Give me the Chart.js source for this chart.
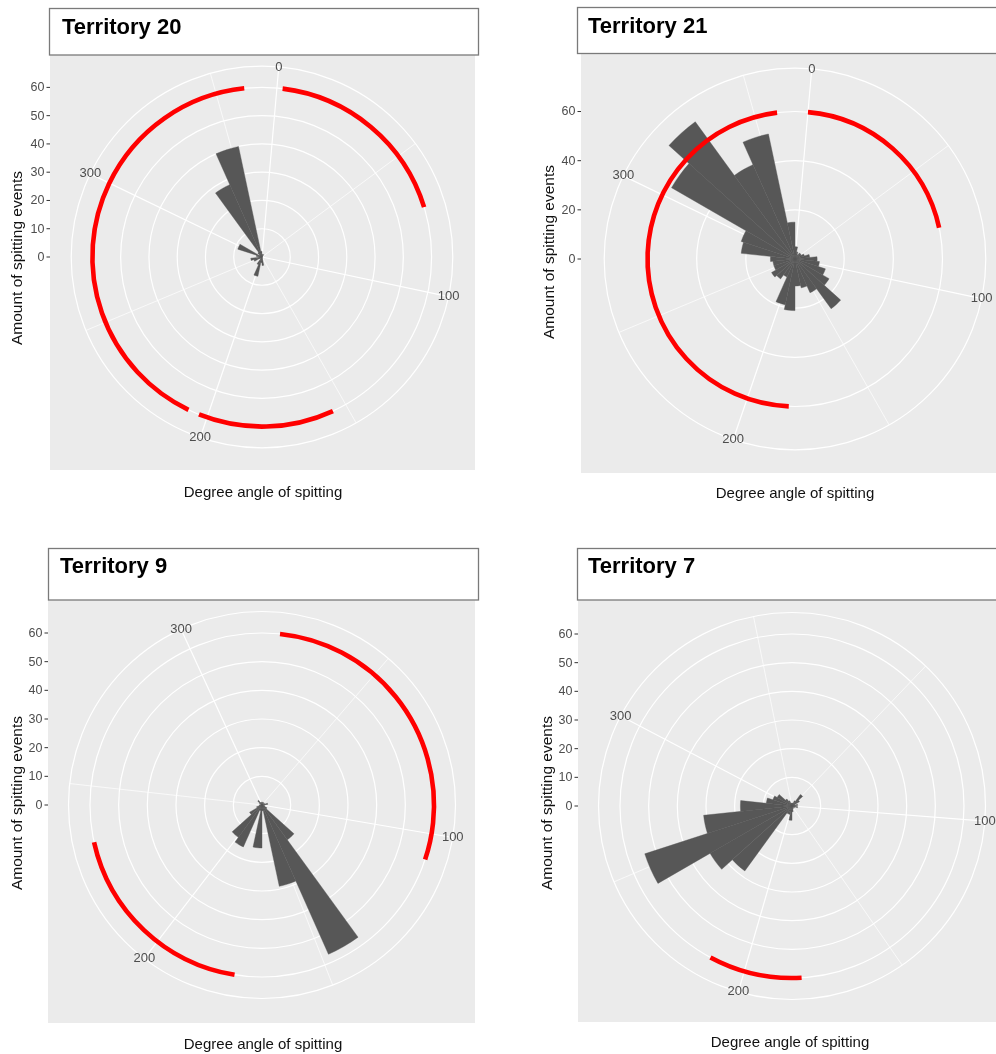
<!DOCTYPE html>
<html>
<head>
<meta charset="utf-8">
<script src="https://cdn.jsdelivr.net/npm/chart.js@4.4.1/dist/chart.umd.min.js"></script>
<style>
  html, body { margin: 0; padding: 0; background: #ffffff; overflow: hidden; width: 996px; height: 1054px; }
  canvas { position: absolute; }
</style>
</head>
<body>
<canvas id="t20"></canvas>
<canvas id="t21"></canvas>
<canvas id="t9"></canvas>
<canvas id="t7"></canvas>
<script>
// ---- data ---------------------------------------------------------------
// Spitting counts in 30 equal histogram bins; bin 1 starts at 12 o'clock, clockwise.
const countsT20 = [1, 0, 1, 0, 0, 0, 0, 0, 0, 0, 0, 0, 0, 0, 3, 2, 7, 3, 0, 1, 3, 4, 1, 2, 9, 1, 2, 28, 40, 2];
const countsT21 = [5, 3, 2, 3, 3, 4, 6, 9, 10, 13, 16, 25, 15, 12, 11, 21, 19, 8, 10, 11, 9, 9, 10, 22, 23, 58, 69, 42, 52, 15];
const countsT9  = [1, 0, 1, 0, 1, 0, 2, 1, 0, 1, 2, 15, 57, 29, 2, 15, 2, 16, 14, 5, 2, 1, 0, 0, 1, 0, 2, 1, 0, 1];
const countsT7  = [1, 1, 2, 5, 3, 1, 2, 1, 2, 1, 0, 1, 0, 1, 2, 5, 3, 3, 28, 33, 54, 31, 18, 9, 7, 6, 3, 2, 1, 1];

// Angle (degrees) covered by the full circle of each plot: [start at top, end]
const thetaRangeT20 = [-5.2, 366.2];
const thetaRangeT21 = [-5.2, 366.2];
const thetaRangeT9  = [15.4, 321.0];
const thetaRangeT7  = [7.0, 361.3];

// Territory boundary arcs, in degrees, drawn at radius arcRadius
const arcsT20 = [[2, 70], [155, 203], [207, 360]];
const arcsT21 = [[0, 75], [183, 359]];
const arcsT9  = [[20.5, 107.5], [176, 234]];
const arcsT7  = [[181, 212]];
const arcRadius = 60;

// Axis breaks
const rBreaksFine   = [0, 10, 20, 30, 40, 50, 60];
const rBreaksCoarse = [0, 20, 40, 60];
const thetaMajor = [0, 100, 200, 300];
const thetaMinor = [50, 150, 250, 350];

const titles = ['Territory 20', 'Territory 21', 'Territory 9', 'Territory 7'];
const xTitle = 'Degree angle of spitting';
const yTitle = 'Amount of spitting events';

// ---- page layout (pixels) --------------------------------------------------
const layouts = [
  { canvas: [0, 0, 520, 527],   center: [262.5, 257.5], half: 212.5, grey: [50, 45, 475, 470],
    strip: [49.5, 8.5, 478.5, 55], titleAt: [62, 28], yTitleAt: [18, 258], xTitleAt: [263, 493] },
  { canvas: [528, 0, 490, 527], center: [795, 259], half: 212.5, grey: [581, 46, 1010, 473],
    strip: [577.5, 7.5, 1012, 53.5], titleAt: [588, 27], yTitleAt: [550, 252], xTitleAt: [795, 494] },
  { canvas: [0, 527, 520, 527], center: [262, 805.5], half: 215, grey: [48, 592, 475, 1023],
    strip: [48.5, 548.5, 478.5, 600], titleAt: [60, 567], yTitleAt: [18, 803], xTitleAt: [263, 1045] },
  { canvas: [528, 527, 490, 527], center: [792, 806.5], half: 215, grey: [578, 593, 1006, 1022],
    strip: [577.5, 548.5, 1012, 600], titleAt: [588, 567], yTitleAt: [548, 803], xTitleAt: [790, 1043] }
];

const FONT = '"Liberation Sans", Arial, Helvetica, sans-serif';
const BAR = '#575757';
const PANEL = '#EBEBEB';
const AXIS_TEXT = '#4D4D4D';

const panels = [
  { id: 't20', counts: countsT20, theta: thetaRangeT20, arcs: arcsT20, rBreaks: rBreaksFine },
  { id: 't21', counts: countsT21, theta: thetaRangeT21, arcs: arcsT21, rBreaks: rBreaksCoarse },
  { id: 't9',  counts: countsT9,  theta: thetaRangeT9,  arcs: arcsT9,  rBreaks: rBreaksFine },
  { id: 't7',  counts: countsT7,  theta: thetaRangeT7,  arcs: arcsT7,  rBreaks: rBreaksFine }
];

// Decorations that ggplot-style polar plots have and Chart.js does not:
// grey panel, angle spokes, boundary arcs, axis labels, strip title.
function panelDecor(spec, lay, title, rangeMax) {
  const ox = lay.canvas[0], oy = lay.canvas[1];
  const X = x => x - ox, Y = y => y - oy;
  const span = spec.theta[1] - spec.theta[0];
  const ang = (s, u) => s.getIndexAngle(0) - Math.PI / 2 + (u - spec.theta[0]) / span * 2 * Math.PI;
  const inRange = u => u >= spec.theta[0] && u <= spec.theta[1];
  const outerVal = rangeMax * 1.125;

  return {
    id: 'panelDecor',
    beforeDraw(chart) {
      const c = chart.ctx, g = lay.grey;
      c.save();
      c.fillStyle = PANEL;
      c.fillRect(X(g[0]), Y(g[1]), g[2] - g[0], g[3] - g[1]);
      c.restore();
    },
    beforeDatasetsDraw(chart) {
      const s = chart.scales.r, c = chart.ctx;
      const R = s.getDistanceFromCenterForValue(outerVal);
      c.save();
      c.strokeStyle = '#ffffff';
      [[thetaMinor, 0.7], [thetaMajor, 1.2]].forEach(([brk, w]) => {
        c.lineWidth = w;
        brk.filter(inRange).forEach(u => {
          const a = ang(s, u);
          c.beginPath();
          c.moveTo(s.xCenter, s.yCenter);
          c.lineTo(s.xCenter + R * Math.cos(a), s.yCenter + R * Math.sin(a));
          c.stroke();
        });
      });
      c.restore();
    },
    afterDatasetsDraw(chart) {
      const s = chart.scales.r, c = chart.ctx;
      const R = s.getDistanceFromCenterForValue(arcRadius);
      c.save();
      c.strokeStyle = '#FF0000';
      c.lineWidth = 4.6;
      c.lineCap = 'butt';
      spec.arcs.forEach(([u0, u1]) => {
        c.beginPath();
        c.arc(s.xCenter, s.yCenter, R, ang(s, u0), ang(s, u1));
        c.stroke();
      });
      c.restore();
    },
    afterDraw(chart) {
      const s = chart.scales.r, c = chart.ctx;
      c.save();
      // angle labels on the outer ring
      const R = s.getDistanceFromCenterForValue(outerVal);
      c.fillStyle = AXIS_TEXT;
      c.font = '13px ' + FONT;
      c.textAlign = 'center';
      c.textBaseline = 'middle';
      thetaMajor.filter(inRange).forEach(u => {
        const a = ang(s, u);
        c.fillText(String(u), s.xCenter + R * Math.cos(a), s.yCenter + R * Math.sin(a));
      });
      // radial axis drawn on the left edge of the panel
      const gx = X(lay.grey[0]);
      c.font = '12.5px ' + FONT;
      c.textAlign = 'right';
      spec.rBreaks.forEach(v => {
        const y = s.yCenter - s.getDistanceFromCenterForValue(v);
        c.fillStyle = AXIS_TEXT;
        c.fillText(String(v), gx - 5.5, y + 0.5);
        c.strokeStyle = '#333333';
        c.lineWidth = 1;
        c.beginPath();
        c.moveTo(gx - 3.5, y);
        c.lineTo(gx, y);
        c.stroke();
      });
      // axis titles
      c.fillStyle = '#111111';
      c.font = '15px ' + FONT;
      c.textAlign = 'center';
      c.fillText(xTitle, X(lay.xTitleAt[0]), Y(lay.xTitleAt[1]));
      c.save();
      c.translate(X(lay.yTitleAt[0]), Y(lay.yTitleAt[1]));
      c.rotate(-Math.PI / 2);
      c.font = '15.5px ' + FONT;
      c.fillText(yTitle, 0, 0);
      c.restore();
      // strip with the plot title
      const st = lay.strip;
      c.fillStyle = '#ffffff';
      c.fillRect(X(st[0]), Y(st[1]), st[2] - st[0], st[3] - st[1]);
      c.strokeStyle = '#7a7a7a';
      c.lineWidth = 1.3;
      c.strokeRect(X(st[0]), Y(st[1]), st[2] - st[0], st[3] - st[1]);
      c.fillStyle = '#000000';
      c.font = 'bold 22px ' + FONT;
      c.textAlign = 'left';
      c.fillText(title, X(lay.titleAt[0]), Y(lay.titleAt[1]));
      c.restore();
    }
  };
}

panels.forEach((spec, i) => {
  const lay = layouts[i];
  const cv = document.getElementById(spec.id);
  cv.width = lay.canvas[2];
  cv.height = lay.canvas[3];
  cv.style.left = lay.canvas[0] + 'px';
  cv.style.top = lay.canvas[1] + 'px';

  // radial range ends at the largest bar or the boundary arc, whichever is larger
  const rangeMax = Math.max(...spec.counts, arcRadius);
  const cx = lay.center[0] - lay.canvas[0], cy = lay.center[1] - lay.canvas[1];
  const padding = {
    left: cx - lay.half,
    top: cy - lay.half,
    right: lay.canvas[2] - (cx + lay.half),
    bottom: lay.canvas[3] - (cy + lay.half)
  };
  const ringValues = spec.rBreaks.concat([rangeMax * 1.125]);

  new Chart(cv, {
    type: 'polarArea',
    data: {
      labels: spec.counts.map((_, k) => 'bin ' + (k + 1)),
      datasets: [{ data: spec.counts, backgroundColor: BAR, borderColor: BAR, borderWidth: 0.4 }]
    },
    options: {
      responsive: false,
      animation: false,
      events: [],
      layout: { padding },
      plugins: { legend: { display: false }, tooltip: { enabled: false } },
      scales: {
        r: {
          min: 0,
          max: rangeMax * 1.25,
          startAngle: 0,
          ticks: { display: false },
          grid: { circular: true, color: '#ffffff', lineWidth: 1.2 },
          angleLines: { display: false },
          pointLabels: { display: false },
          afterBuildTicks: axis => { axis.ticks = ringValues.map(v => ({ value: v })); }
        }
      }
    },
    plugins: [panelDecor(spec, lay, titles[i], rangeMax)]
  });
});
</script>
</body>
</html>
